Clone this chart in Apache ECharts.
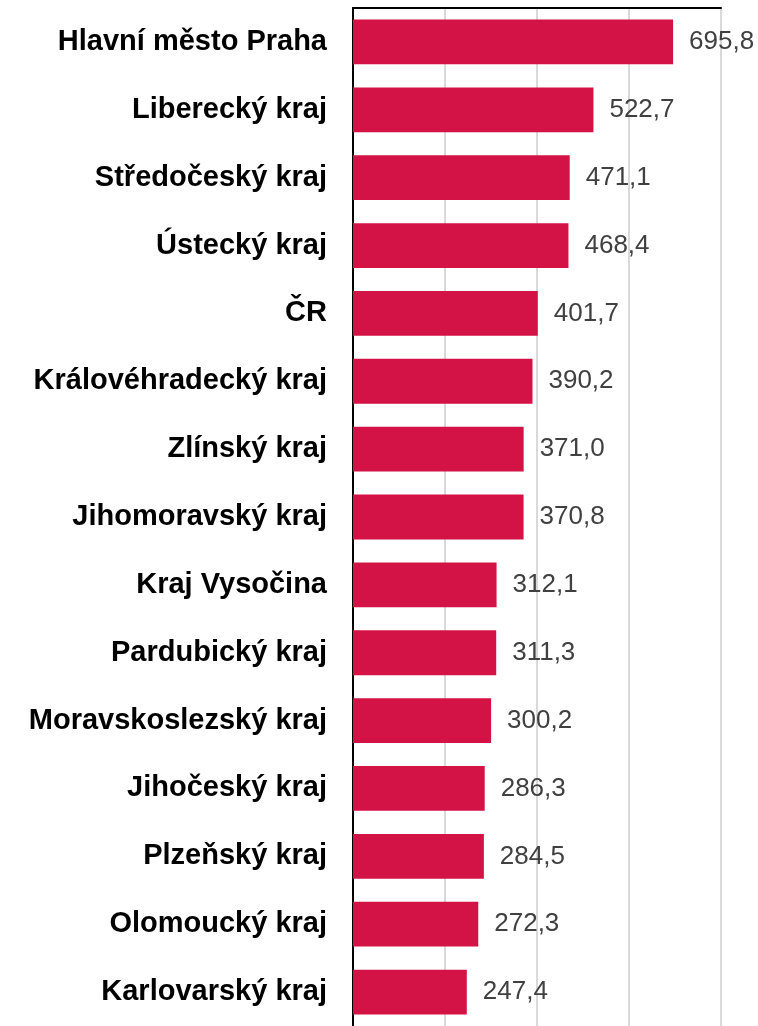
<!DOCTYPE html>
<html><head><meta charset="utf-8">
<script src="https://cdn.jsdelivr.net/npm/echarts@6/dist/echarts.min.js"></script>
<style>html,body{margin:0;padding:0;background:#fff}#c{width:758px;height:1026px}</style>
</head><body><div id="c"></div>
<script>
const categories = ["Hlavní město Praha","Liberecký kraj","Středočeský kraj","Ústecký kraj","ČR","Královéhradecký kraj","Zlínský kraj","Jihomoravský kraj","Kraj Vysočina","Pardubický kraj","Moravskoslezský kraj","Jihočeský kraj","Plzeňský kraj","Olomoucký kraj","Karlovarský kraj"];
const values = [695.8,522.7,471.1,468.4,401.7,390.2,371.0,370.8,312.1,311.3,300.2,286.3,284.5,272.3,247.4];
const axisMax = 800, axisInterval = 200;
const FONT = '"Liberation Sans", Arial, sans-serif';

const chart = echarts.init(document.getElementById('c'), null, {renderer:'canvas'});
chart.setOption({
  animation:false,
  grid:{left:353, top:8, width:368, height:1021, containLabel:false},
  xAxis:{type:'value', position:'top', min:0, max:axisMax, interval:axisInterval,
    axisLine:{show:true, lineStyle:{color:'#000', width:2}},
    axisTick:{show:false}, axisLabel:{show:false},
    splitLine:{show:true, lineStyle:{color:'#d9d9d9', width:2}}},
  yAxis:{type:'category', inverse:true, data:categories,
    axisLine:{show:true, lineStyle:{color:'#000', width:2}},
    axisTick:{show:false},
    axisLabel:{margin:26, color:'#000', fontFamily:FONT, fontWeight:'bold', fontSize:29}},
  series:[{type:'bar', data:values, barCategoryGap:'34%',
    itemStyle:{color:'#d31245'},
    label:{show:true, position:'right', distance:16, color:'#404040', fontFamily:FONT, fontSize:26,
      formatter:p=>p.value.toFixed(1).replace('.',',')}}]
});
</script></body></html>
